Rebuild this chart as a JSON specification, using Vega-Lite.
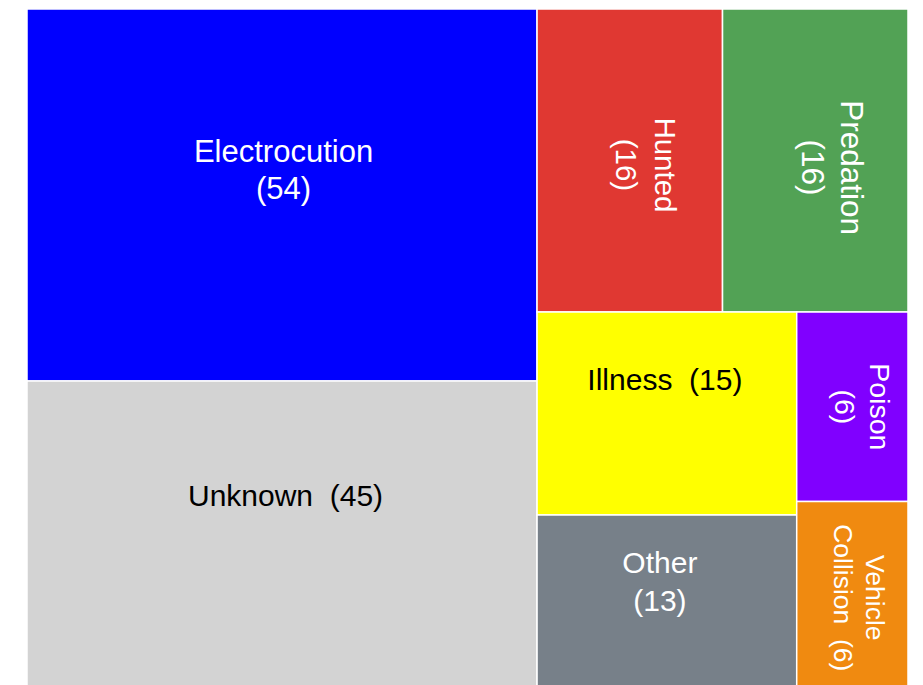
{
  "$schema": "https://vega.github.io/schema/vega-lite/v6.json",
  "width": 881,
  "height": 682,
  "autosize": {"type": "none"},
  "padding": {"left": 27, "top": 9, "right": 15, "bottom": 0},
  "background": "white",
  "config": {"view": {"stroke": null}, "text": {"font": "Liberation Sans", "fontSize": 30, "align": "center", "baseline": "alphabetic"}},
  "data": {"values": [
    {"cause": "Electrocution", "count": 54, "g1": "A", "g2": "A1", "g3": "A1", "label": ["Electrocution", "(54)"]},
    {"cause": "Unknown", "count": 45, "g1": "A", "g2": "A2", "g3": "A2", "label": "Unknown\u00a0 (45)"},
    {"cause": "Hunted", "count": 16, "g1": "B", "g2": "B1", "g3": "H1", "label": ["Hunted", "(16)"]},
    {"cause": "Predation", "count": 16, "g1": "B", "g2": "B1", "g3": "H2", "label": ["Predation", "(16)"]},
    {"cause": "Illness", "count": 15, "g1": "B", "g2": "B2", "g3": "C1", "label": "Illness\u00a0 (15)"},
    {"cause": "Other", "count": 13, "g1": "B", "g2": "B2", "g3": "C1", "label": ["Other", "(13)"]},
    {"cause": "Poison", "count": 6, "g1": "B", "g2": "B2", "g3": "C2", "label": ["Poison", "(6)"]},
    {"cause": "Vehicle Collision", "count": 6, "g1": "B", "g2": "B2", "g3": "C2", "label": ["Vehicle", "Collision\u00a0 (6)"]}
  ]},
  "transform": [
    {"stack": "count", "groupby": [], "sort": [{"field": "g1"}], "offset": "normalize", "as": ["s1", "e1"]},
    {"joinaggregate": [{"op": "min", "field": "s1", "as": "a1"}, {"op": "max", "field": "e1", "as": "b1"}], "groupby": ["g1"]},
    {"stack": "count", "groupby": ["g1"], "sort": [{"field": "g2"}], "offset": "normalize", "as": ["s2", "e2"]},
    {"joinaggregate": [{"op": "min", "field": "s2", "as": "a2"}, {"op": "max", "field": "e2", "as": "b2"}], "groupby": ["g1", "g2"]},
    {"stack": "count", "groupby": ["g1", "g2"], "sort": [{"field": "g3"}], "offset": "normalize", "as": ["s3", "e3"]},
    {"joinaggregate": [{"op": "min", "field": "s3", "as": "a3"}, {"op": "max", "field": "e3", "as": "b3"}], "groupby": ["g1", "g2", "g3"]},
    {"stack": "count", "groupby": ["g1", "g2", "g3"], "sort": [{"field": "cause"}], "offset": "normalize", "as": ["s4", "e4"]},
    {"calculate": "datum.a1 + (datum.b1 - datum.a1) * datum.a3", "as": "x0"},
    {"calculate": "datum.a1 + (datum.b1 - datum.a1) * datum.b3", "as": "x1"},
    {"calculate": "datum.a2 + (datum.b2 - datum.a2) * datum.s4", "as": "y0"},
    {"calculate": "datum.a2 + (datum.b2 - datum.a2) * datum.e4", "as": "y1"},
    {"calculate": "(datum.x0 + datum.x1) / 2", "as": "xc"},
    {"calculate": "(datum.y0 + datum.y1) / 2", "as": "yc"}
  ],
  "encoding": {
    "x": {"field": "xc", "type": "quantitative", "scale": {"domain": [0, 1], "nice": false, "zero": false}, "axis": null},
    "y": {"field": "yc", "type": "quantitative", "scale": {"domain": [0, 1], "nice": false, "zero": false, "reverse": true}, "axis": null},
    "text": {"field": "label"}
  },
  "layer": [
    {
      "mark": {"type": "rect", "stroke": "white", "strokeWidth": 1.5},
      "encoding": {
        "x": {"field": "x0", "type": "quantitative"},
        "x2": {"field": "x1"},
        "y": {"field": "y0", "type": "quantitative"},
        "y2": {"field": "y1"},
        "text": null,
        "color": {
          "field": "cause", "type": "nominal", "legend": null,
          "scale": {
            "domain": ["Electrocution", "Unknown", "Hunted", "Predation", "Illness", "Other", "Poison", "Vehicle Collision"],
            "range": ["#0000FF", "#D3D3D3", "#E03832", "#52A255", "#FFFF00", "#778089", "#8000FF", "#F08A10"]
          }
        }
      }
    },
    {
      "transform": [{"filter": {"field": "cause", "equal": "Electrocution"}}],
      "mark": {"type": "text", "fontSize": 31, "lineHeight": 37, "dx": 1.5, "dy": -33, "color": "white"}
    },
    {
      "transform": [{"filter": {"field": "cause", "equal": "Unknown"}}],
      "mark": {"type": "text", "dx": 3.5, "dy": -30, "color": "black"}
    },
    {
      "transform": [{"filter": {"field": "cause", "equal": "Illness"}}],
      "mark": {"type": "text", "dx": -2, "dy": -24, "color": "black"}
    },
    {
      "transform": [{"filter": {"field": "cause", "equal": "Other"}}],
      "mark": {"type": "text", "lineHeight": 37.5, "dx": -7, "dy": -30, "color": "white"}
    },
    {
      "transform": [{"filter": {"field": "cause", "equal": "Hunted"}}],
      "mark": {"type": "text", "angle": 90, "fontSize": 29.5, "lineHeight": 39, "dx": 4.4, "dy": -25.5, "color": "white"}
    },
    {
      "transform": [{"filter": {"field": "cause", "equal": "Predation"}}],
      "mark": {"type": "text", "angle": 90, "fontSize": 31.5, "lineHeight": 39, "dx": 7, "dy": -25.5, "color": "white"}
    },
    {
      "transform": [{"filter": {"field": "cause", "equal": "Poison"}}],
      "mark": {"type": "text", "angle": 90, "fontSize": 28.5, "lineHeight": 35, "dx": 0, "dy": -17.7, "color": "white"}
    },
    {
      "transform": [{"filter": {"field": "cause", "equal": "Vehicle Collision"}}],
      "mark": {"type": "text", "angle": 90, "fontSize": 26.5, "lineHeight": 32, "dx": 1.5, "dy": -13.5, "color": "white"}
    }
  ]
}
